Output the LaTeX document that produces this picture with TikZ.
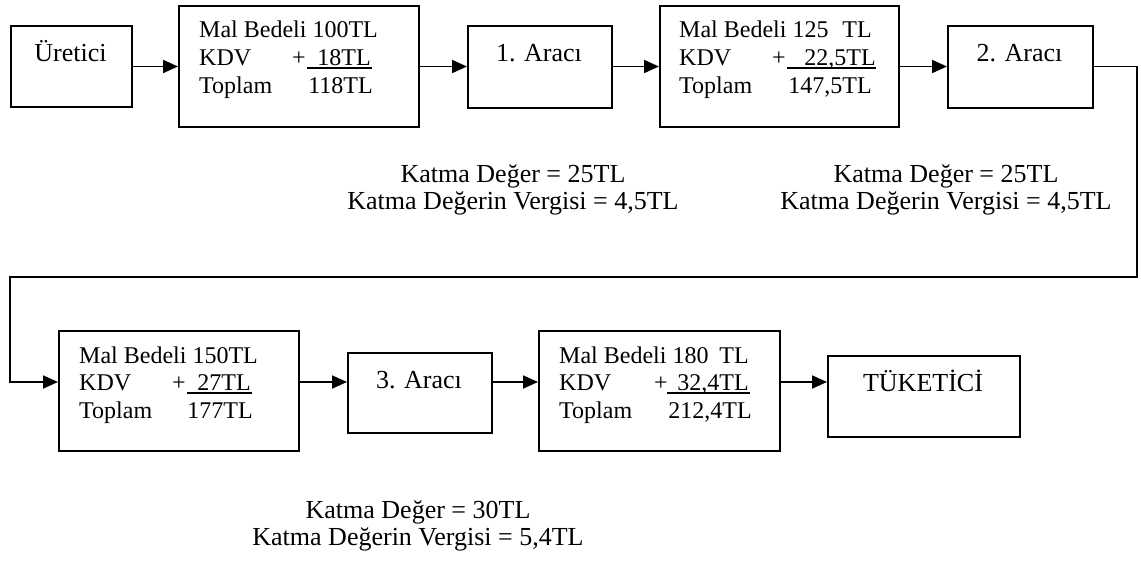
\documentclass[tikz,border=0pt]{standalone}
\usepackage{fontspec}
\setmainfont{Liberation Serif}
\usetikzlibrary{arrows.meta}
\begin{document}
\begin{tikzpicture}[x=1pt,y=-1pt,
  boxst/.style={draw, line width=2pt, inner sep=0pt, anchor=north west},
  big/.style={font=\fontsize{26}{30}\selectfont, inner sep=0pt},
  sml/.style={font=\fontsize{24}{28}\selectfont, inner sep=0pt},
  conn/.style={line width=1.8pt, -{Triangle[length=15pt,width=13pt]}},
  uline/.style={line width=2.2pt}]
\useasboundingbox (0,0) rectangle (1141,563);

% boxes
\node[boxst, minimum width=121pt, minimum height=81pt] (ur) at (10,25) {};
\node[boxst, minimum width=240pt, minimum height=121pt] (b1) at (178,5) {};
\node[boxst, minimum width=144pt, minimum height=82pt] (a1) at (467,25) {};
\node[boxst, minimum width=239pt, minimum height=121pt] (b2) at (659,5) {};
\node[boxst, minimum width=145pt, minimum height=82pt] (a2) at (947,25) {};
\node[boxst, minimum width=240pt, minimum height=120pt] (b3) at (58,330) {};
\node[boxst, minimum width=144pt, minimum height=80pt] (a3) at (347,352) {};
\node[boxst, minimum width=241pt, minimum height=120pt] (b4) at (538,330) {};
\node[boxst, minimum width=192pt, minimum height=81pt] (tk) at (827,355) {};

% simple box labels
\node[big, anchor=base] (urt) at (70.5,61) {Üretici};
\node[big, anchor=base] (a1t) at (539,61) {1. Aracı};
\node[big, anchor=base] (a2t) at (1019.5,61) {2. Aracı};
\node[big, anchor=base] (a3t) at (419,388) {3. Aracı};
\node[big, anchor=base] (tkt) at (923,391) {TÜKETİCİ};

% box 1
\node[sml, anchor=base west] (b1a) at (199,37) {Mal Bedeli 100TL};
\node[sml, anchor=base west] (b1b) at (199,65) {KDV};
\node[sml, anchor=base west] (b1p) at (292,65) {+};
\node[sml, anchor=base east] (b1v) at (371,65) {18TL};
\draw[uline] (307,68) -- (372,68);
\node[sml, anchor=base west] (b1c) at (199,93) {Toplam};
\node[sml, anchor=base east] (b1t) at (373,93) {118TL};

% box 2
\node[sml, anchor=base west] (b2a) at (679,37) {Mal Bedeli 125};
\node[sml, anchor=base east] (b2u) at (872,37) {TL};
\node[sml, anchor=base west] (b2b) at (679,65) {KDV};
\node[sml, anchor=base west] (b2p) at (772,65) {+};
\node[sml, anchor=base east] (b2v) at (876,65) {22,5TL};
\draw[uline] (787,68) -- (876,68);
\node[sml, anchor=base west] (b2c) at (679,93) {Toplam};
\node[sml, anchor=base east] (b2t) at (872,93) {147,5TL};

% box 3
\node[sml, anchor=base west] (b3a) at (79,363) {Mal Bedeli 150TL};
\node[sml, anchor=base west] (b3b) at (79,390) {KDV};
\node[sml, anchor=base west] (b3p) at (172,390) {+};
\node[sml, anchor=base east] (b3v) at (251,390) {27TL};
\draw[uline] (187,393) -- (252,393);
\node[sml, anchor=base west] (b3c) at (79,418) {Toplam};
\node[sml, anchor=base east] (b3t) at (253,418) {177TL};

% box 4
\node[sml, anchor=base west] (b4a) at (559,363) {Mal Bedeli 180};
\node[sml, anchor=base east] (b4u) at (749,363) {TL};
\node[sml, anchor=base west] (b4b) at (559,390) {KDV};
\node[sml, anchor=base west] (b4p) at (654,390) {+};
\node[sml, anchor=base east] (b4v) at (749,390) {32,4TL};
\draw[uline] (667,393) -- (750,393);
\node[sml, anchor=base west] (b4c) at (559,418) {Toplam};
\node[sml, anchor=base east] (b4t) at (752,418) {212,4TL};

% katma labels
\node[big, anchor=base] (k1a) at (513,182) {Katma Değer = 25TL};
\node[big, anchor=base] (k1b) at (513,209) {Katma Değerin Vergisi = 4,5TL};
\node[big, anchor=base] (k2a) at (946,182) {Katma Değer = 25TL};
\node[big, anchor=base] (k2b) at (946,209) {Katma Değerin Vergisi = 4,5TL};
\node[big, anchor=base] (k3a) at (418,518) {Katma Değer = 30TL};
\node[big, anchor=base] (k3b) at (418,545) {Katma Değerin Vergisi = 5,4TL};

% connectors
\coordinate (c1) at (1137,277);
\coordinate (c2) at (10,277);
\coordinate (low) at (10,382);
\draw[conn] (ur.east) -- (b1.west);
\draw[conn] (b1.east) -- (b1.east -| a1.west);
\draw[conn] (a1.east |- b1.east) -- (b1.east -| b2.west);
\draw[conn] (b2.east) -- (b2.east -| a2.west);
\draw[conn] (a2.east |- b2.east) -- (b2.east -| c1) -- (c1) -- (c2) -- (low) -- (low -| b3.west);
\draw[conn] (b3.east |- low) -- (a3.west |- low);
\draw[conn] (a3.east |- low) -- (b4.west |- low);
\draw[conn] (b4.east |- low) -- (tk.west |- low);
\end{tikzpicture}
\end{document}
